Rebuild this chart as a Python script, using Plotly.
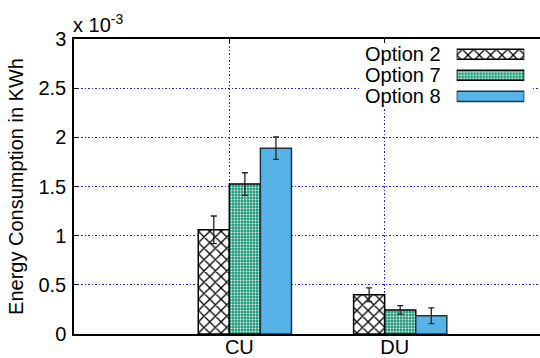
import plotly.graph_objects as go

# ---- data (values in units of 1e-3 KWh) ----
categories = ["CU", "DU"]
series_names = ["Option 2", "Option 7", "Option 8"]
option2 = [1.06, 0.40]
option7 = [1.525, 0.245]
option8 = [1.89, 0.185]
option2_err = [0.14, 0.07]
option7_err = [0.115, 0.043]
option8_err = [0.115, 0.08]
y_ticks = [0, 0.5, 1, 1.5, 2, 2.5, 3]
y_tick_labels = ["0", "0.5", "1", "1.5", "2", "2.5", "3"]

FONT = "Liberation Sans, Arial, sans-serif"
values = [option2, option7, option8]
errors = [option2_err, option7_err, option8_err]
shifts = [-0.1, 0.1, 0.3]
bar_w = 0.2
GRID = "#2020ff"
GRIDDASH = "1.5px,2px"

markers = [
    dict(color="white", line=dict(color="black", width=1.5),
         pattern=dict(shape="x", fgcolor="black", bgcolor="white", size=8, solidity=0.3)),
    dict(color="#179b74", line=dict(color="black", width=1.5),
         pattern=dict(shape=".", fgcolor="white", bgcolor="#179b74", size=3, solidity=0.3)),
    dict(color="#56b3e7", line=dict(color="#1b3646", width=1.5)),
]

fig = go.Figure()

for name, vals, errs, sh, mk in zip(series_names, values, errors, shifts, markers):
    fig.add_trace(go.Bar(
        x=[i + sh for i in range(len(categories))], y=vals, width=bar_w,
        name=name, marker=mk, showlegend=False,
        error_y=dict(type="data", array=errs, color="#222222", thickness=1.3, width=3),
        xaxis="x", yaxis="y",
    ))

# legend swatches drawn as an inset bar chart
for name, mk in zip(series_names, markers):
    fig.add_trace(go.Bar(
        y=[name], x=[1], orientation="h", width=0.48, marker=mk,
        showlegend=False, xaxis="x2", yaxis="y2", hoverinfo="skip",
    ))

fig.add_shape(type="rect", xref="x", yref="y", x0=0.846, x1=1.955, y0=2.30, y1=2.96,
              fillcolor="white", line=dict(width=0), layer="between")

fig.add_annotation(xref="paper", yref="paper", x=0, y=1, xanchor="left", yanchor="bottom",
                   xshift=-3, yshift=1, showarrow=False,
                   text="x 10<sup>-3</sup>", font=dict(family=FONT, size=20, color="black"))

fig.update_layout(
    template="none",
    width=540, height=358,
    margin=dict(l=74, r=0, t=39, b=24),
    paper_bgcolor="white", plot_bgcolor="white",
    barmode="overlay",
    font=dict(family=FONT, size=20, color="black"),
    xaxis=dict(
        range=[-1, 2], tickmode="array", tickvals=list(range(len(categories))), ticktext=categories,
        ticklabelshift=10, ticklabelstandoff=-6, automargin=False,
        showgrid=True, gridcolor=GRID, griddash=GRIDDASH, gridwidth=1,
        showline=True, linecolor="black", linewidth=1.5, mirror="ticks",
        ticks="inside", ticklen=4, tickcolor="black", zeroline=False,
        tickfont=dict(size=20),
    ),
    yaxis=dict(
        range=[0, 3], tickmode="array", tickvals=y_ticks, ticktext=y_tick_labels,
        ticklabelstandoff=2, automargin=False,
        showgrid=True, gridcolor=GRID, griddash=GRIDDASH, gridwidth=1,
        showline=True, linecolor="black", linewidth=1.5, mirror=False,
        ticks="inside", ticklen=4, tickcolor="black", zeroline=False,
        title=dict(text="Energy Consumption in KWh", font=dict(size=20), standoff=9),
        tickfont=dict(size=20),
    ),
    xaxis2=dict(domain=[0.8212, 0.9663], anchor="y2", range=[0, 1], visible=False,
                showgrid=False, zeroline=False, fixedrange=True),
    yaxis2=dict(domain=[0.770, 0.984], anchor="x2", autorange="reversed",
                tickmode="array", tickvals=series_names, ticktext=series_names,
                categoryorder="array", categoryarray=series_names, automargin=False,
                showgrid=False, showline=False, zeroline=False, ticks="",
                ticklabelstandoff=15, tickfont=dict(size=20)),
)

fig.write_html("out.html", config={"displayModeBar": False},
               post_script="document.body.style.margin='0';document.body.style.padding='0';")
